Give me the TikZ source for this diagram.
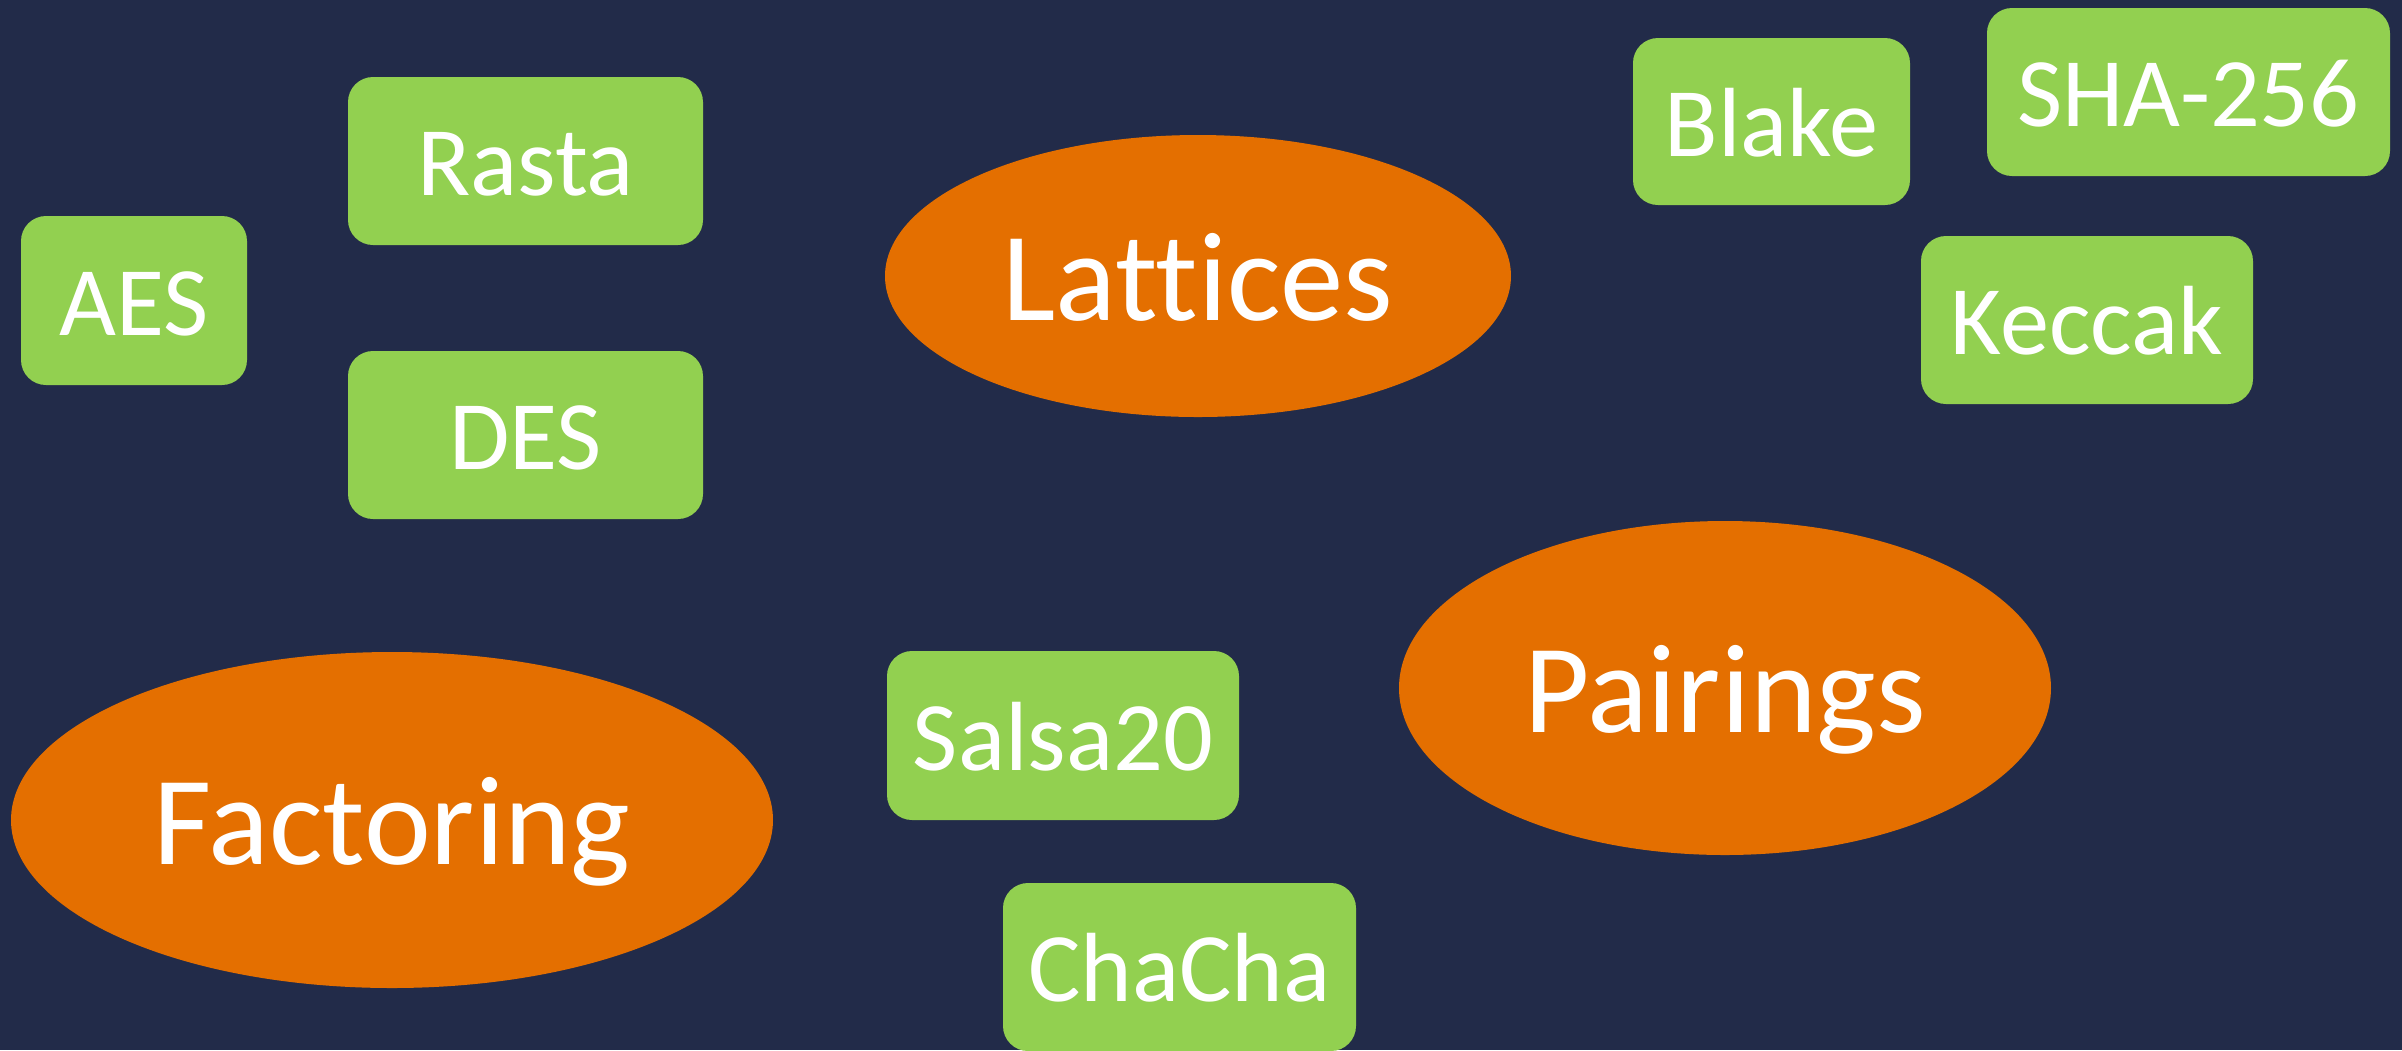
\documentclass[tikz,border=0pt]{standalone}
\usepackage{fontspec}
\setmainfont[Ligatures=NoCommon]{Carlito}
\usetikzlibrary{shapes.geometric}
\definecolor{bgnavy}{HTML}{222B49}
\definecolor{boxgreen}{HTML}{92D050}
\definecolor{ovalorange}{HTML}{E46F00}
\tikzset{
  algbox/.style={fill=boxgreen, rounded corners=7.5pt, inner sep=0pt,
    text=white, font=\fontsize{29.5}{34}\selectfont, anchor=center,
    text height=23.6pt, text depth=2.9pt},
  family/.style={ellipse, fill=ovalorange, inner sep=0pt,
    text=white, font=\fontsize{38}{44}\selectfont, anchor=center,
    text height=30.4pt, text depth=3.8pt},
}
\begin{document}
\begin{tikzpicture}[x=0.3pt, y=-0.3pt]
  \fill[bgnavy] (0,0) rectangle (2402,1050);
  \useasboundingbox (0,0) rectangle (2402,1050);

  % symmetric primitives
  \node[algbox, minimum width=67.8pt, minimum height=50.7pt] (aes) at (134,300.5) {AES};
  \node[algbox, minimum width=106.5pt, minimum height=50.4pt] (rasta) at (525.5,161) {Rasta};
  \node[algbox, minimum width=106.5pt, minimum height=50.4pt] (des) at (525.5,435) {DES};
  \node[algbox, minimum width=83.1pt, minimum height=50.1pt] (blake) at (1771.5,121.5) {Blake};
  \node[algbox, minimum width=120.9pt, minimum height=50.4pt] (sha) at (2188.5,92) {SHA-256};
  \node[algbox, minimum width=99.6pt, minimum height=50.4pt] (keccak) at (2087,320) {Keccak};
  \node[algbox, minimum width=105.6pt, minimum height=50.7pt] (salsa) at (1063,735.5) {Salsa20};
  \node[algbox, minimum width=105.9pt, minimum height=50.4pt] (chacha) at (1179.5,967) {ChaCha};

  % hardness assumptions
  \node[family, minimum width=187.8pt, minimum height=84.6pt] (lattices) at (1198,276) {Lattices};
  \node[family, minimum width=195.6pt, minimum height=100.2pt] (pairings) at (1725,688) {Pairings};
  \node[family, minimum width=228.6pt, minimum height=100.8pt] (factoring) at (392,820) {Factoring};
\end{tikzpicture}
\end{document}
